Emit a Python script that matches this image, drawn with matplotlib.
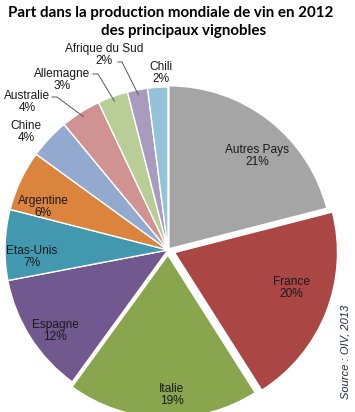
import numpy as np
import matplotlib.pyplot as plt

W, H = 355, 412

pays = ['Autres Pays', 'France', 'Italie', 'Espagne', 'Etas-Unis', 'Argentine',
        'Chine', 'Australie', 'Allemagne', 'Afrique du Sud', 'Chili']
parts = [21, 20, 19, 12, 7, 6, 4, 4, 3, 2, 2]
couleurs = ['#A5A5A5', '#AA4643', '#89A54E', '#71588F', '#4198AF', '#DB843D',
            '#93A9CF', '#D19392', '#B9CD96', '#A99BBD', '#92C3D8']
# explode offsets in pixels (pie does not scale them by the radius)
eclate = [1.5, 7, 5, 0, 0, 0, 0, 0, 0, 0, 0]

# label centres, in pixels from top-left
pos_labels = [(257, 156), (291, 288), (172, 395), (55, 331), (32, 257), (43, 207),
              (26, 132), (27, 102), (62, 80), (104, 55), (161, 73)]
# leader lines: (start x, start y, elbow x) for the outside labels
guides = {'Australie': (52, 97, 57), 'Allemagne': (93, 74, 98), 'Afrique du Sud': (118, 62, 122)}

cx, cy, r = 168, 250, 163

fig = plt.figure(figsize=(W / 100, H / 100), dpi=100)
ax = fig.add_axes([0, 0, 1, 1])

wedges, _ = ax.pie(parts, colors=couleurs, startangle=90, counterclock=False,
                   explode=eclate, center=(cx, H - cy), radius=r,
                   wedgeprops=dict(edgecolor='white', linewidth=1))
ax.set_xlim(0, W)
ax.set_ylim(0, H)
ax.set_aspect('equal')
ax.axis('off')

for i, (nom, val) in enumerate(zip(pays, parts)):
    x, y = pos_labels[i]
    ax.text(x, H - y, f'{nom}\n{val}%', ha='center', va='center', fontsize=8.6,
            family='Liberation Sans', color='#1a1a1a', linespacing=1.1)
    if nom in guides:
        w = wedges[i]
        a = np.deg2rad((w.theta1 + w.theta2) / 2)
        ex = cx + 0.97 * r * np.cos(a)
        ey = cy - 0.97 * r * np.sin(a)
        sx, sy, kx = guides[nom]
        ax.plot([sx, kx, ex], [H - sy, H - sy, H - ey], color='#595959', lw=0.7)

ax.text(171, H - 13, 'Part dans la production mondiale de vin en 2012',
        ha='center', va='center', fontsize=10.9, fontweight='bold', family='Lato')
ax.text(184, H - 31, 'des principaux vignobles',
        ha='center', va='center', fontsize=10.9, fontweight='bold', family='Lato')

ax.text(346, H - 352, 'Source : OIV, 2013', rotation=90, ha='center', va='center',
        fontsize=8, style='italic', family='Liberation Sans', color='#1F2A44')

fig.savefig('out.png', dpi=100)
